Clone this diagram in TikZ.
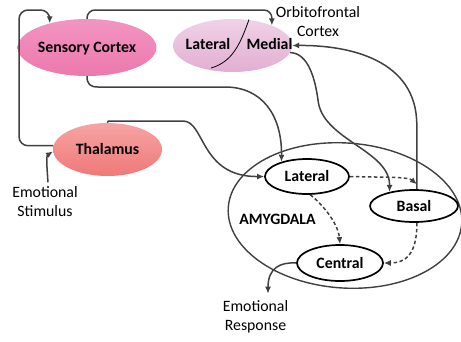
\documentclass[tikz,border=0pt]{standalone}
\usepackage{fontspec}
\setmainfont{Carlito}
\usetikzlibrary{arrows.meta,shapes.geometric}
\definecolor{linegrey}{HTML}{404040}
\definecolor{senstop}{HTML}{F295C2}
\definecolor{sensbot}{HTML}{EC78AC}
\definecolor{ofctop}{HTML}{F0D2E7}
\definecolor{ofcbot}{HTML}{E2AED2}
\definecolor{thaltop}{HTML}{F6A4A4}
\definecolor{thalbot}{HTML}{F07878}
\begin{document}
\begin{tikzpicture}[x=1pt,y=-1pt,
  txt/.style={font=\fontsize{15.8}{18.7}\selectfont, inner sep=0pt, align=center},
  boldtxt/.style={font=\fontsize{15.8}{18.7}\selectfont\bfseries, inner sep=0pt, text height=10.2pt, text depth=0pt},
  blob/.style={ellipse, inner sep=0pt, boldtxt},
  amnode/.style={ellipse, draw=black, line width=1.7pt, fill=white, inner sep=0pt, boldtxt},
  conn/.style={draw=linegrey, line width=1.5pt, -{Latex[length=7pt,width=6pt]}},
  dconn/.style={conn, dash pattern=on 3.5pt off 2.5pt},
]
\useasboundingbox (0,0) rectangle (461,341);

% big amygdala outline
\node[ellipse, draw=linegrey, line width=1.4pt, minimum width=234pt, minimum height=145pt, rotate=-4] (amyg) at (345,215.5) {};
\node[boldtxt] (amyglabel) at (277.5,219.5) {AMYGDALA};

% cortical / thalamic blobs
\node[blob, top color=senstop, bottom color=sensbot, minimum width=120pt, minimum height=57pt] (sens) at (87,47.5) {Sensory Cortex};
\node[blob, top color=ofctop, bottom color=ofcbot, minimum width=119pt, minimum height=53pt] (ofc) at (232.5,45.5) {};
\node[blob, top color=thaltop, bottom color=thalbot, minimum width=109pt, minimum height=53pt] (thal) at (107.5,149.5) {Thalamus};

\draw[black, line width=0.8pt] (249,19.5) .. controls (240,45) and (232,62) .. (211,68);
\node[boldtxt] (ofclat) at (208,44.3) {Lateral};
\node[boldtxt] (ofcmed) at (269.5,44.3) {Medial};
\node[txt] (ofclabel) at (318,21.3) {Orbitofrontal\\Cortex};

% amygdala nuclei
\node[amnode, minimum width=84pt, minimum height=35pt] (lat) at (307,176.5) {Lateral};
\node[amnode, minimum width=88pt, minimum height=32pt] (basal) at (414,206) {Basal};
\node[amnode, minimum width=86pt, minimum height=36pt] (central) at (340,263) {Central};

% free texts
\node[txt] (stim) at (45,201.5) {Emotional\\Stimulus};
\node[txt] (resp) at (255.5,317) {Emotional\\Response};

% connectors
\draw[conn] ([xshift=3pt,yshift=4pt]stim.north) .. controls (47,168) and (46,156) .. (thal.182);
\draw[conn, rounded corners=9pt] (thal.176) -| (19,10) -| (sens.147);
\draw[conn, rounded corners=8pt] (sens.north) -- (87,10) -| (ofc.27);
\draw[conn] (sens.south) .. controls (87,84) and (90,87) .. (98,87) -- (225,87)
   .. controls (262,87) and (282,115) .. (lat.150);
\draw[conn] (thal.north) .. controls (107.5,121) .. (112,121) -- (183,121)
   .. controls (205,121) and (200,177) .. (lat.west);
\draw[conn] (ofc.-7) .. controls (308,53) and (315,78) .. (318,100)
   .. controls (322,140) and (390,150) .. (basal.150);
\draw[conn] (basal.80) -- (416.8,125) .. controls (416.8,60) and (350,45) .. (ofc.east);
\draw[dconn] (lat.east) .. controls (395,177.5) and (408,177) .. ([yshift=5pt]basal.80);
\draw[dconn] (lat.-80) .. controls (320,202) and (338,222) .. (central.north);
\draw[dconn] (basal.-80) .. controls (417,255) and (405,263) .. (central.east);
\draw[conn] (central.west) .. controls (280,262) and (268,268) .. ([xshift=12.5pt,yshift=7pt]resp.north);
\end{tikzpicture}
\end{document}
